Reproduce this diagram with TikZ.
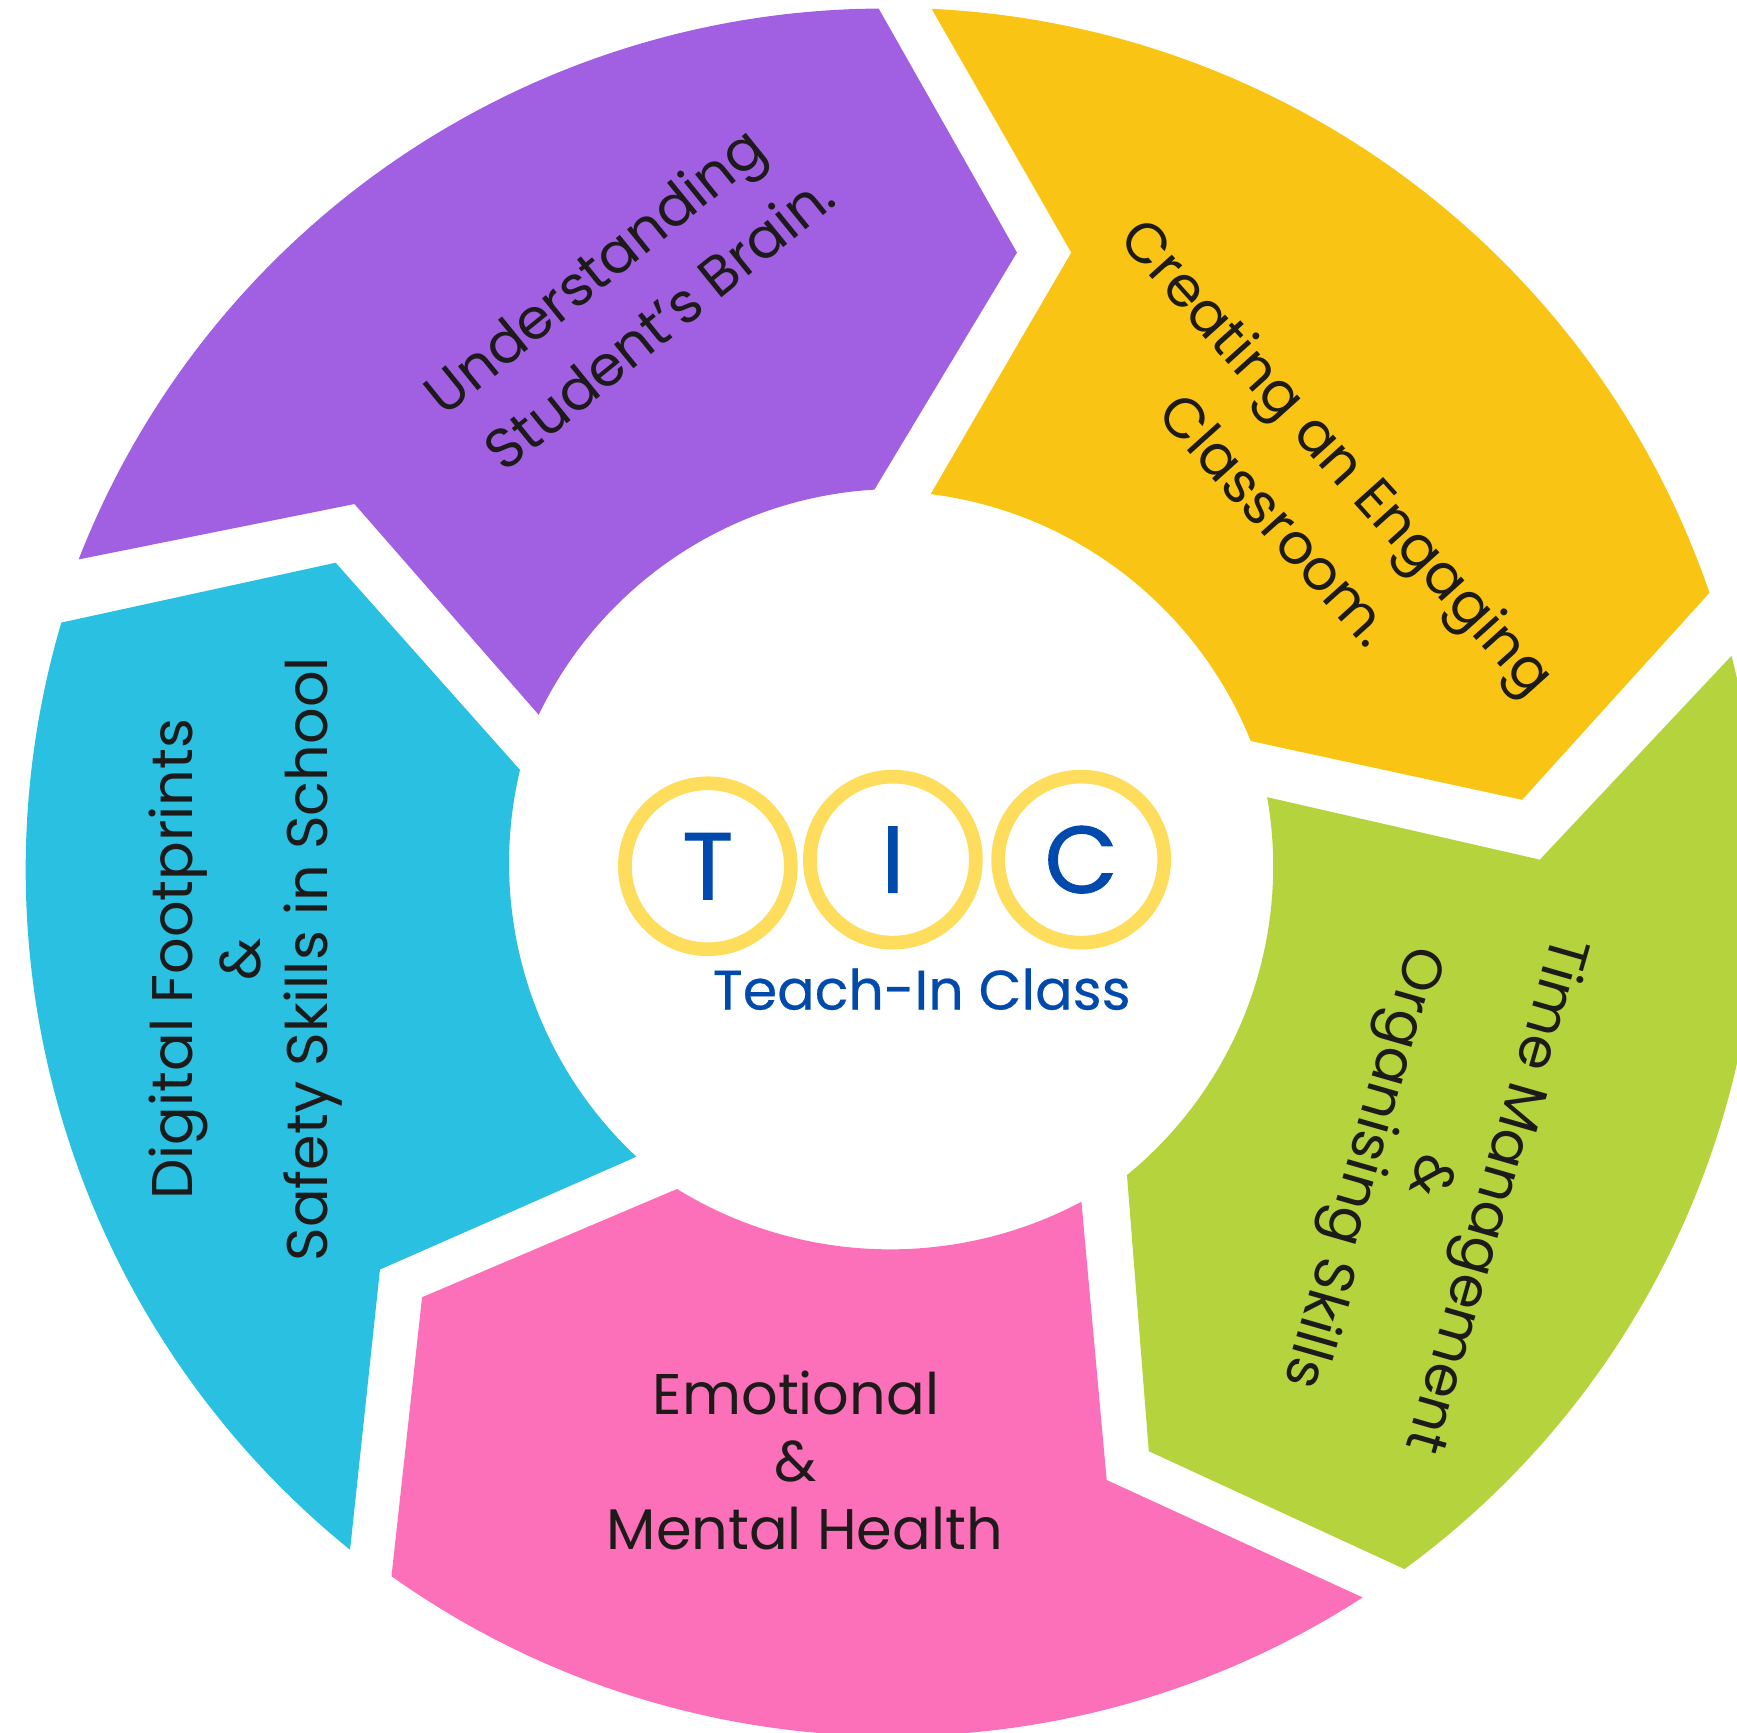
\documentclass[tikz,border=0pt]{standalone}
\usepackage{fontspec}
\setmainfont{Poppins}
\definecolor{tpurple}{HTML}{A160E1}
\definecolor{tyellow}{HTML}{F9C414}
\definecolor{tgreen}{HTML}{B5D33D}
\definecolor{tpink}{HTML}{FC70BA}
\definecolor{tblue}{HTML}{29C0E1}
\definecolor{tring}{HTML}{FFDD5C}
\definecolor{tletter}{HTML}{004AAD}
\definecolor{tink}{HTML}{1D1A1A}
\begin{document}
\begin{tikzpicture}[x=.011078cm, y=.011078cm,
    topic/.style={text=tink, align=center, font=\fontsize{16}{19.2}\selectfont},
    wide/.style={font=\fontsize{16.3}{19.2}\selectfont},
    ring/.style={circle, draw=tring, line width=3.9pt, minimum size=1.66cm, inner sep=0pt, text=tletter, font=\fontsize{27}{27}\selectfont\addfontfeature{FakeBold=1}}]
\useasboundingbox (0,0) rectangle (1568,1564);
\clip (0,0) rectangle (1568,1564);

\fill[tpurple] (71,1059) arc[start angle=158.7, end angle=90.4, radius=781]--(918,1336)--(789.3,1122) arc[start angle=93.4, end angle=154.3, radius=360]--(320,1109)--cycle;
\fill[tyellow] (841,1556) arc[start angle=87.3, end angle=18.9, radius=781]--(1374,842)--(1129,895.1) arc[start angle=21.9, end angle=82.8, radius=360]--(967,1336)--cycle;
\fill[tgreen] (1563,972) arc[start angle=14.4, end angle=-53.8, radius=781]--(1037,254)--(1017.3,503.3) arc[start angle=-50.7, end angle=10, radius=360]--(1390,788)--cycle;
\fill[tpink] (1230,122) arc[start angle=-57.1, end angle=-125.4, radius=781]--(381,393)--(611.1,490.7) arc[start angle=-121.6, end angle=-62, radius=367.5]--(999,228)--cycle;
\fill[tblue] (316,165) arc[start angle=231, end angle=163.6, radius=790]--(303,1056)--(469.4,869) arc[start angle=166.6, end angle=226.9, radius=363]--(343,418)--cycle;

\node[topic, rotate=39] (brain) at (559,1292) {Understanding\\[4pt]\hspace*{10pt}Student's Brain.};
\node[topic, rotate=-48] (classroom) at (1179,1126) {Creating an Engaging\\[6pt]\hspace*{3pt}Classroom.};
\node[topic, rotate=-106] (time) at (1289,503) {Time Management\\\&\\\hspace*{6pt}Organising Skills};
\node[topic, wide] (health) at (726.5,246) {\mbox{Emotional\kern5pt}\\\mbox{\&\kern5pt}\\Mental Health};
\node[topic, wide, rotate=90] (digital) at (222,698) {Digital Footprints\\\&\\Safety Skills in School};

\node[ring] (ringT) at (639,782) {T};
\node[ring] (ringI) at (806,788) {I};
\node[ring] (ringC) at (976,788) {C};
\node[text=tletter, font=\fontsize{15.8}{16}\selectfont\addfontfeature{FakeBold=.4}] (brand) at (832,671) {Teach-In Class};
\end{tikzpicture}
\end{document}
